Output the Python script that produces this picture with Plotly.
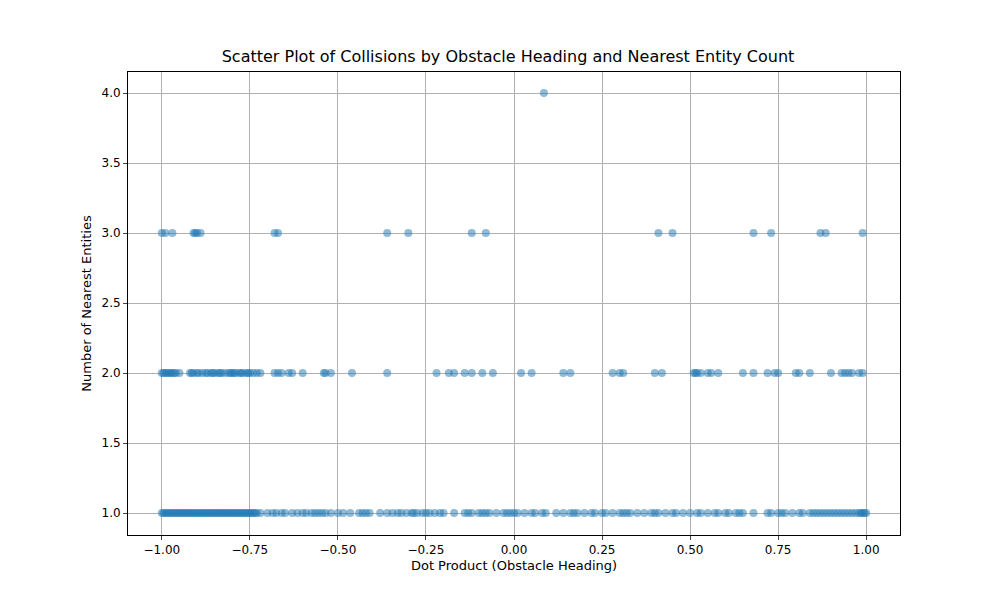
import plotly.graph_objects as go

# y = 1 row
row1_x = [-1.0, -0.995, -0.99, -0.985, -0.98, -0.975, -0.97, -0.965, -0.96, -0.955, -0.95, -0.945,
          -0.94, -0.935, -0.93, -0.925, -0.92, -0.915, -0.91, -0.905, -0.9, -0.895, -0.89, -0.885,
          -0.88, -0.875, -0.87, -0.865, -0.86, -0.855, -0.85, -0.845, -0.84, -0.835, -0.83, -0.825,
          -0.82, -0.815, -0.81, -0.805, -0.8, -0.795, -0.79, -0.785, -0.78, -0.775, -0.77, -0.765,
          -0.76, -0.755, -0.75, -0.745, -0.74, -0.735, -0.73, -0.72, -0.7, -0.685, -0.675, -0.66,
          -0.65, -0.63, -0.615, -0.6, -0.59, -0.575, -0.565, -0.555, -0.545, -0.535, -0.52, -0.5,
          -0.485, -0.465, -0.44, -0.43, -0.42, -0.41, -0.38, -0.36, -0.345, -0.33, -0.32, -0.305,
          -0.29, -0.285, -0.275, -0.26, -0.25, -0.24, -0.225, -0.21, -0.2, -0.17, -0.14, -0.13,
          -0.12, -0.1, -0.09, -0.08, -0.07, -0.05, -0.03, -0.02, -0.01, 0.0, 0.01, 0.03, 0.05,
          0.06, 0.08, 0.09, 0.12, 0.14, 0.16, 0.17, 0.18, 0.2, 0.22, 0.23, 0.25, 0.26, 0.28, 0.3,
          0.31, 0.32, 0.33, 0.35, 0.37, 0.39, 0.4, 0.41, 0.43, 0.45, 0.46, 0.48, 0.5, 0.52, 0.53,
          0.55, 0.57, 0.58, 0.6, 0.61, 0.63, 0.64, 0.65, 0.68, 0.72, 0.73, 0.75, 0.76, 0.77, 0.79,
          0.81, 0.82, 0.84, 0.85, 0.86, 0.87, 0.88, 0.89, 0.9, 0.91, 0.92, 0.93, 0.94, 0.95, 0.96,
          0.97, 0.98, 0.985, 0.99, 0.995, 1.0]
row2_x = [-1.0, -0.995, -0.99, -0.985, -0.98, -0.975, -0.97, -0.965, -0.96, -0.95, -0.92, -0.915,
          -0.91, -0.9, -0.895, -0.885, -0.875, -0.87, -0.86, -0.855, -0.85, -0.84, -0.835, -0.83,
          -0.82, -0.81, -0.805, -0.8, -0.795, -0.79, -0.78, -0.775, -0.77, -0.76, -0.755, -0.75,
          -0.74, -0.73, -0.72, -0.68, -0.67, -0.66, -0.64, -0.63, -0.6, -0.54, -0.535, -0.52,
          -0.46, -0.36, -0.22, -0.185, -0.17, -0.14, -0.12, -0.09, -0.06, 0.02, 0.05, 0.14, 0.16,
          0.28, 0.3, 0.31, 0.4, 0.42, 0.51, 0.515, 0.52, 0.53, 0.55, 0.56, 0.58, 0.65, 0.68, 0.72,
          0.74, 0.75, 0.8, 0.81, 0.84, 0.9, 0.93, 0.94, 0.95, 0.96, 0.98, 0.99]
row3_x = [-1.0, -0.99, -0.97, -0.91, -0.905, -0.9, -0.89, -0.68, -0.67, -0.36, -0.3, -0.12, -0.08,
          0.41, 0.45, 0.68, 0.73, 0.87, 0.885, 0.99]
row4_x = [0.085]

xs = row1_x + row2_x + row3_x + row4_x
ys = [1] * len(row1_x) + [2] * len(row2_x) + [3] * len(row3_x) + [4] * len(row4_x)

fig = go.Figure()
fig.add_trace(go.Scatter(x=xs, y=ys, mode="markers",
                         marker=dict(color="#1f77b4", opacity=0.5, size=8, line=dict(width=0))))

ax = dict(showgrid=True, gridcolor="#b0b0b0", gridwidth=1, showline=True, linecolor="black",
          mirror=True, ticks="outside", ticklen=4, zeroline=False, tickfont=dict(size=12),
          automargin=False)
fig.update_layout(
    width=1000, height=600, plot_bgcolor="white", paper_bgcolor="white",
    font=dict(family="DejaVu Sans", color="black", size=12),
    margin=dict(l=120, r=108, t=64, b=73), showlegend=False,
    title=dict(text="Scatter Plot of Collisions by Obstacle Heading and Nearest Entity Count",
               x=0.5, y=0.91, xanchor="center", yanchor="bottom", font=dict(size=16)),
)
fig.update_xaxes(ax, range=[-1.096, 1.096], tickvals=[-1, -0.75, -0.5, -0.25, 0, 0.25, 0.5, 0.75, 1],
                 ticktext=["−1.00", "−0.75", "−0.50", "−0.25", "0.00", "0.25", "0.50", "0.75", "1.00"],
                 title=dict(text="Dot Product (Obstacle Heading)", standoff=4, font=dict(size=13)))
fig.update_yaxes(ax, range=[0.843, 4.15], tickvals=[1, 1.5, 2, 2.5, 3, 3.5, 4],
                 ticktext=["1.0", "1.5", "2.0", "2.5", "3.0", "3.5", "4.0"],
                 title=dict(text="Number of Nearest Entities", standoff=6, font=dict(size=13)))
fig.write_html("out.html")
